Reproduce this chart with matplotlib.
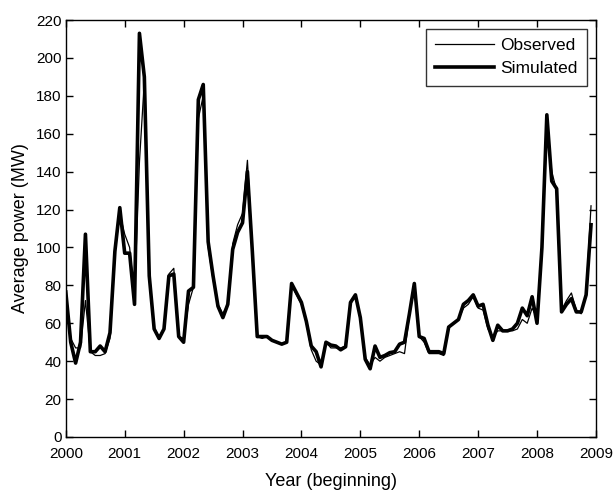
import numpy as np
import matplotlib
matplotlib.use("Agg")
import matplotlib.pyplot as plt

plt.rcParams['font.family'] = ['Liberation Sans', 'DejaVu Sans']

# Monthly values, Jan 2000 .. Dec 2008
observed = [
    78, 52, 47, 47, 72, 45, 43, 43, 44, 52, 97, 118,
    107, 100, 74, 145, 188, 88, 57, 53, 57, 86, 89, 53,
    52, 70, 79, 168, 180, 100, 83, 70, 65, 70, 102, 112,
    118, 146, 100, 53, 52, 53, 51, 50, 49, 50, 80, 75,
    70, 60, 46, 40, 38, 50, 47, 47, 47, 48, 70, 75,
    62, 42, 38, 42, 40, 42, 43, 44, 45, 44, 64, 80,
    53, 50, 44, 44, 44, 43, 58, 60, 62, 68, 70, 74,
    68, 67, 57, 53, 56, 56, 56, 56, 57, 62, 60, 68,
    63, 98, 165, 140, 130, 67, 72, 76, 67, 65, 76, 122,
]
simulated = [
    76.5, 50, 39, 50, 107, 45, 45, 48, 45, 55, 98, 121,
    97, 97, 70, 213, 190, 85, 57, 52, 57, 85, 86, 53,
    50, 77, 79, 178, 186, 103, 85, 69, 63, 70, 99, 108,
    113, 140, 98, 53, 53, 53, 51, 50, 49, 50, 81, 76,
    71, 61, 48, 45, 37, 50, 48.5, 48, 46, 47.6, 71, 75,
    63, 41, 36, 48, 42, 43, 44.5, 45, 49, 50, 65, 81,
    53, 52, 45, 45, 45, 44, 58, 60, 62, 70, 72, 75,
    69, 70, 59, 51, 59, 56, 56, 57, 60, 68, 64, 74,
    60, 100, 170, 135, 131, 66, 70, 73, 66, 66, 75, 112,
]
start_year = 2000
year_ticks = list(range(2000, 2010))
y_ticks = list(range(0, 221, 20))

t = start_year + np.arange(len(observed)) / 12.0

fig = plt.figure(figsize=(6.15, 4.94), dpi=100)
ax = fig.add_axes([0.107, 0.1154, 0.862, 0.844])

ax.plot(t, observed, color='black', lw=0.9, label='Observed')
ax.plot(t, simulated, color='black', lw=2.6, label='Simulated')

ax.set_xlim(2000, 2009)
ax.set_ylim(0, 220)
ax.set_xticks(year_ticks)
ax.set_yticks(y_ticks)
ax.tick_params(direction='in', top=True, right=True, length=5, width=1,
               labelsize=11)
ax.tick_params(axis='x', pad=7)
ax.tick_params(axis='y', pad=3)
for s in ax.spines.values():
    s.set_linewidth(1.0)

ax.set_xlabel('Year (beginning)', fontsize=13, labelpad=9)
ax.set_ylabel('Average power (MW)', fontsize=13, labelpad=5)

leg = ax.legend(loc='upper right', fontsize=12.5, frameon=True, fancybox=False,
                edgecolor='black', handlelength=3.4, borderaxespad=0.5,
                handletextpad=0.35, borderpad=0.55, labelspacing=0.45)
leg.get_frame().set_linewidth(1.0)

fig.savefig('out.png', dpi=100)
